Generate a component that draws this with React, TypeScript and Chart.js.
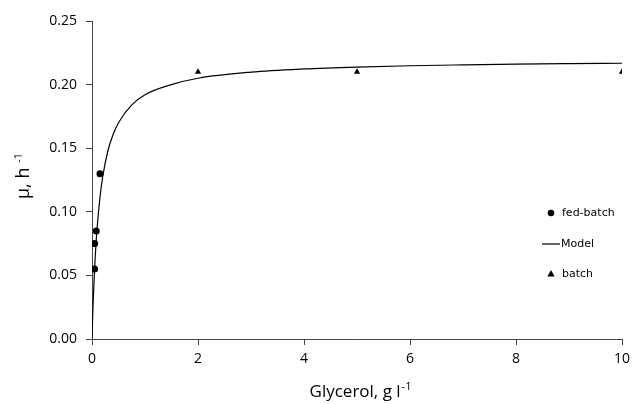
import React, { useEffect, useRef } from "react";
import { Chart, registerables } from "chart.js";

Chart.register(...registerables);

const fedBatchX = [0.05, 0.05, 0.08, 0.15];
const fedBatchY = [0.055, 0.075, 0.085, 0.13];

const batchX = [2, 5, 10];
const batchY = [0.21, 0.21, 0.21];

const modelX = [0, 0.01, 0.02, 0.04, 0.06, 0.08, 0.1, 0.15, 0.2, 0.3, 0.4, 0.5, 0.75, 1, 1.5, 2, 3, 4, 5, 6, 7, 8, 9, 10];
const modelY = [0, 0.014, 0.027, 0.047, 0.064, 0.078, 0.089, 0.111, 0.127, 0.148, 0.161, 0.170, 0.184, 0.192, 0.200, 0.205, 0.2098, 0.2123, 0.2138, 0.2148, 0.2155, 0.2161, 0.2165, 0.2168];

const xTicks = [0, 2, 4, 6, 8, 10];
const yTicks = [0, 0.05, 0.1, 0.15, 0.2, 0.25];

const legendLabels = ["fed-batch", "Model", "batch"];

const FONT = "'Open Sans', 'Noto Sans', sans-serif";
const LEGEND_FONT = "'DejaVu Sans', Verdana, sans-serif";

const toPts = (xs: number[], ys: number[]) => xs.map((x, i) => ({ x, y: ys[i] }));

const overlayPlugin = {
  id: "overlay",
  afterDraw(chart: any) {
    const ctx = chart.ctx as CanvasRenderingContext2D;
    const area = chart.chartArea;
    ctx.save();
    ctx.fillStyle = "#000";
    ctx.strokeStyle = "#000";

    const main = "Glycerol, g l";
    const sup = "-1";
    ctx.font = `17px ${FONT}`;
    const wMain = ctx.measureText(main).width;
    ctx.font = `11px ${FONT}`;
    const wSup = ctx.measureText(sup).width;
    const cx = (area.left + area.right) / 2 + 3;
    const startX = cx - (wMain + wSup) / 2;
    ctx.textBaseline = "alphabetic";
    ctx.textAlign = "left";
    ctx.font = `17px ${FONT}`;
    ctx.fillText(main, startX, 397);
    ctx.font = `11px ${FONT}`;
    ctx.fillText(sup, startX + wMain + 1, 390);

    ctx.save();
    ctx.translate(29, 176);
    ctx.rotate(-Math.PI / 2);
    const yMain = "\u03bc, h ";
    ctx.font = `18px ${FONT}`;
    const wy = ctx.measureText(yMain).width;
    ctx.font = `11px ${FONT}`;
    const wys = ctx.measureText(sup).width;
    const sy = -(wy + wys) / 2;
    ctx.font = `18px ${FONT}`;
    ctx.fillText(yMain, sy, 0);
    ctx.font = `11px ${FONT}`;
    ctx.fillText(sup, sy + wy, -7);
    ctx.restore();

    ctx.font = `11px ${LEGEND_FONT}`;
    ctx.textBaseline = "middle";
    const lx = 551;
    const tx = 562;
    const rows = [213, 244, 274];
    ctx.beginPath();
    ctx.arc(lx, rows[0], 3.3, 0, Math.PI * 2);
    ctx.fill();
    ctx.fillText(legendLabels[0], tx, rows[0]);
    ctx.lineWidth = 1.2;
    ctx.beginPath();
    ctx.moveTo(542, rows[1]);
    ctx.lineTo(560, rows[1]);
    ctx.stroke();
    ctx.fillText(legendLabels[1], 561, rows[1]);
    ctx.beginPath();
    ctx.moveTo(lx, rows[2] - 4);
    ctx.lineTo(lx + 3.6, rows[2] + 2.5);
    ctx.lineTo(lx - 3.6, rows[2] + 2.5);
    ctx.closePath();
    ctx.fill();
    ctx.fillText(legendLabels[2], tx, rows[2]);
    ctx.restore();
  },
};

export default function App() {
  const ref = useRef<HTMLCanvasElement>(null);
  useEffect(() => {
    document.body.style.margin = "0";
    const chart = new Chart(ref.current as HTMLCanvasElement, {
      type: "scatter",
      data: {
        datasets: [
          {
            label: legendLabels[0],
            data: toPts(fedBatchX, fedBatchY),
            pointStyle: "circle",
            pointRadius: 3.5,
            backgroundColor: "#000",
            borderColor: "#000",
            borderWidth: 0,
          },
          {
            label: legendLabels[1],
            data: toPts(modelX, modelY),
            showLine: true,
            pointRadius: 0,
            borderColor: "#000",
            borderWidth: 1.2,
            cubicInterpolationMode: "monotone",
          },
          {
            label: legendLabels[2],
            data: toPts(batchX, batchY),
            pointStyle: "triangle",
            pointRadius: 3.6,
            backgroundColor: "#000",
            borderColor: "#000",
            borderWidth: 0,
          },
        ],
      },
      options: {
        animation: false,
        responsive: false,
        maintainAspectRatio: false,
        layout: { padding: { left: 0, right: 10, top: 21, bottom: 0 } },
        plugins: { legend: { display: false }, tooltip: { enabled: false } },
        scales: {
          x: {
            type: "linear",
            min: 0,
            max: 10,
            afterBuildTicks: (s: any) => {
              s.ticks = xTicks.map((v) => ({ value: v }));
            },
            afterFit: (s: any) => {
              s.height = 65;
              s.paddingLeft = 0;
              s.paddingRight = 0;
            },
            ticks: {
              color: "#000",
              font: { family: FONT, size: 14 },
              padding: 6,
              maxRotation: 0,
              callback: (v: any) => String(v),
            },
            grid: {
              drawOnChartArea: false,
              drawTicks: true,
              tickLength: 6,
              color: "#444",
            },
            border: { color: "#444", width: 1 },
          },
          y: {
            type: "linear",
            min: 0,
            max: 0.25,
            afterBuildTicks: (s: any) => {
              s.ticks = yTicks.map((v) => ({ value: v }));
            },
            afterFit: (s: any) => {
              s.width = 92;
              s.paddingTop = 0;
              s.paddingBottom = 0;
            },
            ticks: {
              color: "#000",
              font: { family: FONT, size: 14 },
              padding: 9,
              callback: (v: any) => Number(v).toFixed(2),
            },
            grid: {
              drawOnChartArea: false,
              drawTicks: true,
              tickLength: 6,
              color: "#444",
            },
            border: { color: "#444", width: 1 },
          },
        },
      },
      plugins: [overlayPlugin],
    });
    return () => chart.destroy();
  }, []);
  return (
    <div style={{ width: 632, height: 404 }}>
      <canvas ref={ref} width={632} height={404} style={{ width: 632, height: 404, display: "block" }} />
    </div>
  );
}
